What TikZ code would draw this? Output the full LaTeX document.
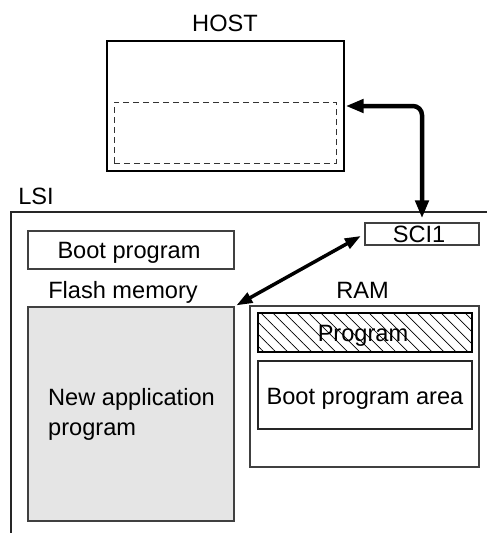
\documentclass[tikz,border=0pt]{standalone}
\usepackage{fontspec}
\setmainfont{Liberation Sans}
\usetikzlibrary{arrows.meta,patterns.meta}
\begin{document}
\begin{tikzpicture}[x=1pt,y=-1pt,
  txt/.style={font=\fontsize{23.6}{30}\selectfont, text height=16.9pt, text depth=0pt, inner sep=0pt},
  box/.style={draw=#1, line width=1.3pt, inner sep=0pt},
  box/.default=black!75,
  bigarrow/.style={line width=4.5pt, {Triangle[length=18pt,width=13pt]}-{Triangle[length=18pt,width=13pt]}},
  midarrow/.style={line width=3.5pt, {Triangle[length=16pt,width=11pt]}-{Triangle[length=16pt,width=11pt]}}
]
\useasboundingbox (0,0) rectangle (487,533);
% HOST
\node[txt] (hostlbl) at (225,23) {HOST};
\node[box=black, minimum width=237pt, minimum height=130pt] (host) at (225.5,106) {};
\node[draw=black!80, dashed, dash pattern=on 6pt off 4pt, line width=1pt, minimum width=222pt, minimum height=61pt, inner sep=0pt] (dsh) at (225,132.5) {};
% LSI
\node[txt] (lsilbl) at (36,196) {LSI};
\coordinate (lsiA) at (11,533);
\coordinate (lsiB) at (11,212);
\coordinate (lsiC) at (487,212);
\draw[line width=1.3pt, black!85] (lsiA) -- (lsiB) -- (lsiC);
% SCI1
\node[box, minimum width=114pt, minimum height=22pt] (sci1) at (422,234) {};
\node[txt] (scitxt) at (419,234.5) {SCI1};
% Boot program
\node[box, minimum width=206pt, minimum height=38pt] (boot) at (131,250) {};
\node[txt] (boottxt) at (129,250) {Boot program};
% labels
\node[txt] (flashlbl) at (123,290) {Flash memory};
\node[txt] (ramlbl) at (362.5,290) {RAM};
% Flash
\node[box, fill=black!10, minimum width=206pt, minimum height=214pt] (flash) at (131,414) {};
\node[txt, anchor=west, align=left] (newapp) at (48,427) {New application\\program};
% RAM
\node[box, minimum width=229pt, minimum height=161pt] (ram) at (364.5,386.5) {};
\node[draw=black, line width=1.3pt, pattern={Lines[angle=-45,distance=8.5pt,line width=0.7pt]}, minimum width=214pt, minimum height=39pt, inner sep=0pt] (prog) at (365,332.5) {};
\node[txt] (progtxt) at (363,333) {Program};
\node[box=black!85, minimum width=214pt, minimum height=68pt] (bpa) at (365,395) {};
\node[txt] (bpatxt) at (365,396) {Boot program area};
% arrows
\draw[bigarrow, rounded corners=9pt, shorten <=1pt, shorten >=4pt] (host.east) -| (sci1.north);
\draw[midarrow, shorten <=4pt, shorten >=2pt] (sci1.west) -- (flash.north east);
\end{tikzpicture}
\end{document}
